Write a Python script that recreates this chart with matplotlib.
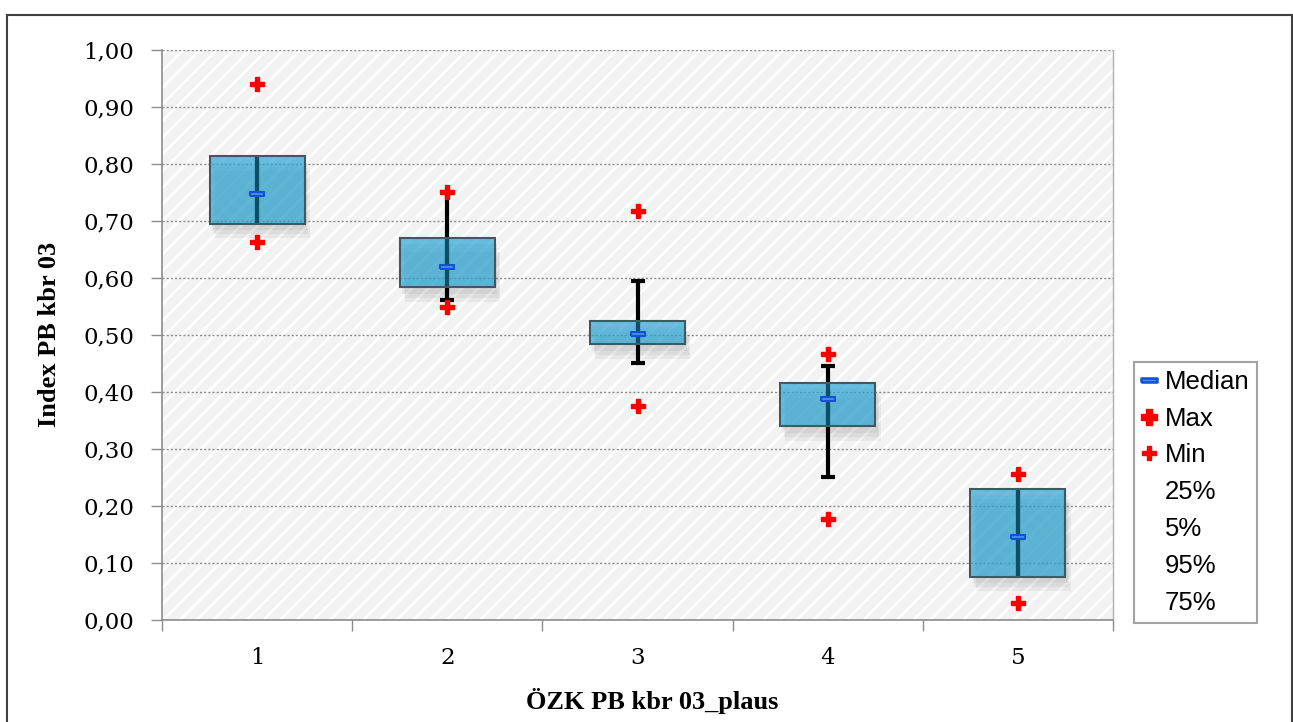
import numpy as np
import matplotlib
matplotlib.use("Agg")
import matplotlib.pyplot as plt
from matplotlib.patches import Rectangle
from matplotlib.lines import Line2D
from matplotlib.ticker import FixedLocator, FuncFormatter

# values
categories = ["1", "2", "3", "4", "5"]
p_max = [0.940, 0.751, 0.718, 0.466, 0.255]
p95 = [0.813, 0.750, 0.594, 0.446, 0.229]
p75 = [0.813, 0.670, 0.525, 0.416, 0.229]
median = [0.748, 0.619, 0.501, 0.387, 0.144]
p25 = [0.695, 0.583, 0.483, 0.339, 0.075]
p5 = [0.695, 0.561, 0.450, 0.251, 0.075]
p_min = [0.663, 0.549, 0.375, 0.177, 0.029]
legend_labels = ["Median", "Max", "Min", "25%", "5%", "95%", "75%"]

plt.rcParams['hatch.linewidth'] = 2.0
serif_ticks = ['DejaVu Serif']
serif = ['Liberation Serif', 'DejaVu Serif']
sans = ['Liberation Sans', 'DejaVu Sans']

W, H = 1293, 722
fig = plt.figure(figsize=(W / 100, H / 100), dpi=100)
ax = fig.add_axes([162 / W, (H - 619.5) / H, (1113 - 162) / W, (619.5 - 50) / H])

# outer chart frame (bottom edge lies below the picture)
for xs, ys in [([7, 7], [15, 730]), ([7, 1292], [15, 15]), ([1292, 1292], [15, 730])]:
    fig.add_artist(Line2D([x / W for x in xs], [1 - y / H for y in ys],
                          transform=fig.transFigure, color='#404040', lw=1.5))

# striped plot area
ax.set_facecolor('#f2f2f2')
ax.add_patch(Rectangle((0, 0), 1, 1, transform=ax.transAxes, facecolor='#f2f2f2',
                       edgecolor='white', hatch='//', lw=0, zorder=0.1))
ax.set_axisbelow(True)
ax.yaxis.grid(True, color='#8c8c8c', ls=(0, (1.5, 1.5)), lw=1.0, zorder=0.5)

x = np.arange(1, len(categories) + 1)
box_w = 0.5

for i, xi in enumerate(x):
    lo, hi = p25[i], p75[i]
    # soft shadow
    for k in range(3):
        d = 0.012 + 0.008 * k
        ax.add_patch(Rectangle((xi - box_w / 2 + d, lo - d * 0.9), box_w, hi - lo,
                               facecolor='#555555', alpha=0.07, lw=0, zorder=1))
    # whisker 5% - 95% (no caps when they sit on the box edge)
    caps = 0 if (p5[i] == p25[i] and p95[i] == p75[i]) else 5
    ax.errorbar(xi, median[i], yerr=[[median[i] - p5[i]], [p95[i] - median[i]]],
                fmt='none', ecolor='black', elinewidth=3, capsize=caps, capthick=3, zorder=2)
    ax.add_patch(Rectangle((xi - box_w / 2, lo), box_w, hi - lo, facecolor='#2aa5d4',
                           alpha=0.7, edgecolor='none', zorder=3))
    ax.plot([xi, xi], [lo, hi], color='#0b5068', lw=3, zorder=3.05, solid_capstyle='butt')
    ax.add_patch(Rectangle((xi - box_w / 2, lo), box_w, hi - lo, facecolor='none',
                           edgecolor='#3f5963', lw=1.5, zorder=3.1))

med_marker = [(-3.5, -1), (3.5, -1), (3.5, 1), (-3.5, 1), (-3.5, -1)]
ax.plot(x, median, ls='none', marker=med_marker, ms=10, mfc='#3f8fe8', mec='#1450d0',
        mew=1.5, zorder=5)
ax.plot(x, p_max, ls='none', marker='P', ms=10.5, color='#ff0000', mec='#ff0000', zorder=5)
ax.plot(x, p_min, ls='none', marker='P', ms=10.5, color='#ff0000', mec='#ff0000', zorder=5)

ax.set_xlim(0.5, 5.5)
ax.set_ylim(0, 1.0)
ax.yaxis.set_major_locator(FixedLocator(np.round(np.arange(0, 1.01, 0.1), 2)))
ax.yaxis.set_major_formatter(FuncFormatter(lambda v, p: f"{v:.2f}".replace('.', ',')))
ax.xaxis.set_major_locator(FixedLocator(np.arange(0.5, 5.6, 1.0)))
ax.xaxis.set_major_formatter(FuncFormatter(lambda v, p: ""))
ax.xaxis.set_minor_locator(FixedLocator(x))
ax.xaxis.set_minor_formatter(FuncFormatter(lambda v, p: categories[int(round(v)) - 1]))
ax.tick_params(axis='x', which='major', length=8, color='#8c8c8c', width=1)
ax.tick_params(axis='x', which='minor', length=0, pad=20, labelsize=16.5)
ax.tick_params(axis='y', length=8, color='#8c8c8c', width=1, pad=12, labelsize=16.5)
for lab in ax.get_xticklabels(minor=True) + ax.get_yticklabels():
    lab.set_family(serif_ticks)

for s in ['left', 'bottom']:
    ax.spines[s].set_color('#8c8c8c')
    ax.spines[s].set_linewidth(1.2)
ax.spines['top'].set_visible(False)
ax.spines['right'].set_color('#b0b0b0')
ax.spines['right'].set_linewidth(1.0)

ax.set_xlabel("ÖZK PB kbr 03_plaus", family=serif, fontsize=19, fontweight='bold')
ax.xaxis.set_label_coords(0.515, -0.121)
ax.set_ylabel("Index PB kbr 03", family=serif, fontsize=19, fontweight='bold', labelpad=16)

handles = [
    Line2D([], [], ls='none', marker=med_marker, ms=11, mfc='#3f8fe8', mec='#1450d0', mew=1.8),
    Line2D([], [], ls='none', marker='P', ms=12, color='#ff0000'),
    Line2D([], [], ls='none', marker='P', ms=10, color='#ff0000'),
] + [Line2D([], [], ls='none') for _ in range(4)]
leg = fig.legend(handles, legend_labels, loc='upper left',
                 bbox_to_anchor=(1134 / W, 1 - 362 / H), frameon=True, fancybox=False,
                 prop={'family': sans, 'size': 18.5}, handlelength=0.6, handletextpad=0.3,
                 labelspacing=0.5, borderpad=0.3, borderaxespad=0)
leg.get_frame().set_edgecolor('#8c8c8c')
leg.get_frame().set_linewidth(1.5)

fig.savefig("out.png", dpi=100)
